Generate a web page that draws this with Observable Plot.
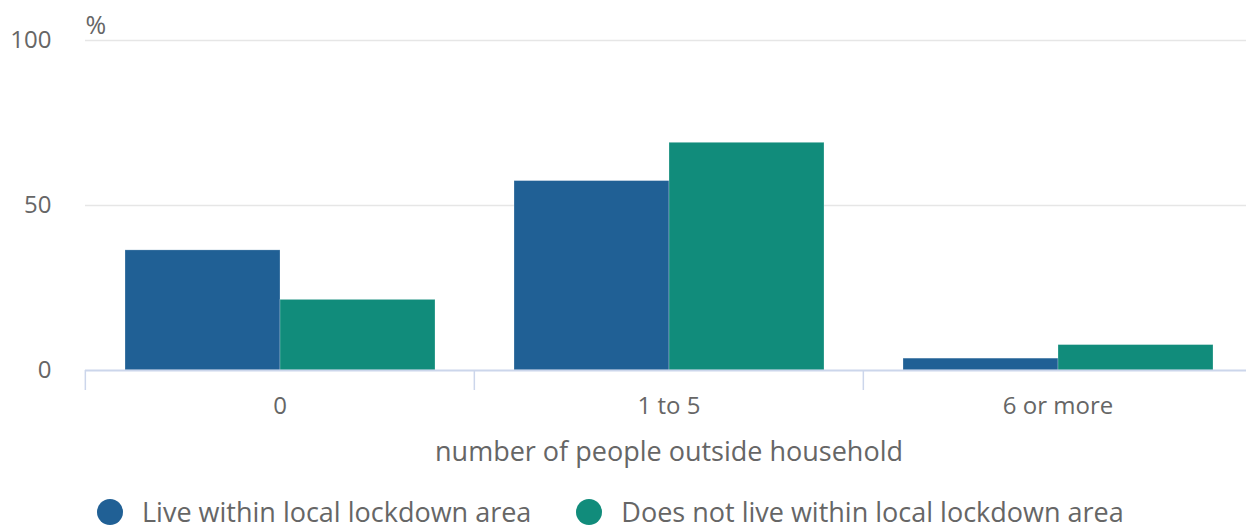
<!DOCTYPE html>
<html><head><meta charset="utf-8">
<script src="https://cdn.jsdelivr.net/npm/d3@7"></script>
<script src="https://cdn.jsdelivr.net/npm/@observablehq/plot@0.6"></script>
<style>
html,body{margin:0;padding:0;background:#fff;overflow:hidden;width:1246px;height:526px}
#chart{width:1246px;overflow:hidden}
#chart svg{display:block;max-width:none}
#legend{display:flex;align-items:center;margin-top:22px;padding-left:97px;font-family:"Open Sans",sans-serif;font-size:27px;color:#666;line-height:28px;white-space:nowrap}
.item{display:flex;align-items:center;margin-right:45px}
.dot{width:26px;height:26px;border-radius:50%;margin-right:19px;flex:none}
</style></head><body><div id="chart"></div><div id="legend"></div>
<script>
const categories = ["0", "1 to 5", "6 or more"];
const seriesNames = ["Live within local lockdown area", "Does not live within local lockdown area"];
const liveWithin = [36.4, 57.4, 3.6];
const notWithin = [21.4, 69.0, 7.7];
const yTicks = [0, 50, 100];
const colors = ["#206095", "#118c7b"];
const xTitle = "number of people outside household";
const yUnit = "%";

const seriesValues = [liveWithin, notWithin];
const data = [];
categories.forEach((c, i) => seriesNames.forEach((s, j) => data.push({category: c, series: s, value: seriesValues[j][i]})));

const W = 1252, H = 476, ML = 84, MR = 0, MT = 40, MB = 106;
const bw = (W - ML - MR) / categories.length;

const chart = Plot.plot({
  width: W, height: H,
  marginLeft: ML, marginRight: MR, marginTop: MT, marginBottom: MB,
  style: {fontFamily: "'Open Sans', sans-serif", color: "#666", background: "#fff", overflow: "visible", maxWidth: "none"},
  fx: {domain: categories, padding: 0},
  x: {domain: seriesNames, paddingInner: 0, paddingOuter: 0.25, axis: null},
  y: {domain: [0, 100]},
  color: {domain: seriesNames, range: colors},
  marks: [
    Plot.gridY(yTicks.filter(d => d > 0), {stroke: "#e6e6e6", strokeOpacity: 1, strokeWidth: 1.5}),
    Plot.barY(data, {fx: "category", x: "series", y: "value", fill: "series", inset: 0, stroke: "#fff", strokeOpacity: 0.35, strokeWidth: 0.7}),
    Plot.ruleY([0], {stroke: "#ccd6eb", strokeWidth: 2}),
    Plot.axisFx({anchor: "bottom", tickSize: 20, dx: -bw / 2, tickFormat: () => "", stroke: "#ccd6eb", strokeWidth: 1.5, label: null}),
    Plot.axisFx({anchor: "bottom", tickSize: 0, tickPadding: 26, fontSize: 24, fill: "#666", label: null}),
    Plot.axisY({ticks: yTicks, tickSize: 0, tickPadding: 34, fontSize: 24, fill: "#666", label: null}),
    Plot.text([xTitle], {fx: () => categories[1], frameAnchor: "bottom", dy: 82, fontSize: 27, fill: "#666", lineAnchor: "middle"}),
    Plot.text([yUnit], {fx: () => categories[0], frameAnchor: "top-left", dy: -15, fontSize: 25, fill: "#666", textAnchor: "start", lineAnchor: "middle"})
  ]
});
document.getElementById("chart").appendChild(chart);

const legend = document.getElementById("legend");
seriesNames.forEach((s, j) => {
  const item = document.createElement("div");
  item.className = "item";
  const dot = document.createElement("span");
  dot.className = "dot";
  dot.style.background = colors[j];
  const label = document.createElement("span");
  label.textContent = s;
  item.appendChild(dot); item.appendChild(label);
  legend.appendChild(item);
});
</script>
</body></html>
